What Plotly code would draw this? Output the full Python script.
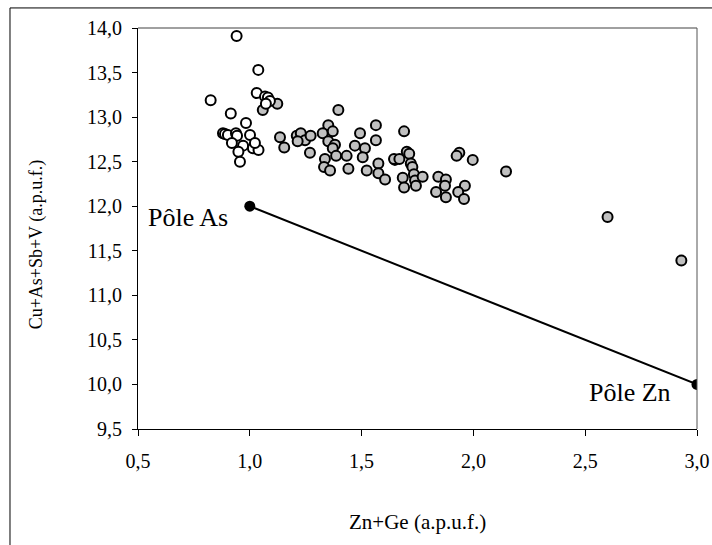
import plotly.graph_objects as go

# Grey-filled analyses
gray_x = [1.058, 1.123, 1.396, 1.351, 1.564, 1.135, 1.154, 1.210, 1.228, 1.247,
          1.214, 1.272, 1.326, 1.371, 1.351, 1.381, 1.371, 1.269, 1.336, 1.386,
          1.433, 1.332, 1.359, 1.441, 1.470, 1.493, 1.515, 1.505, 1.564, 1.523,
          1.575, 1.575, 1.605, 1.649, 1.690, 1.702, 1.713, 1.645, 1.669, 1.720,
          1.727, 1.734, 1.684, 1.690, 1.739, 1.743, 1.773, 1.843, 1.877, 1.873,
          1.833, 1.877, 1.937, 1.925, 1.997, 2.146, 1.962, 1.932, 1.958, 2.60,
          2.93]
gray_y = [13.08, 13.15, 13.08, 12.91, 12.91, 12.775, 12.66, 12.79, 12.82, 12.74,
          12.73, 12.79, 12.82, 12.84, 12.73, 12.69, 12.65, 12.60, 12.53, 12.565,
          12.565, 12.44, 12.40, 12.42, 12.68, 12.82, 12.65, 12.55, 12.74, 12.40,
          12.48, 12.37, 12.30, 12.52, 12.84, 12.61, 12.59, 12.53, 12.53, 12.48,
          12.44, 12.36, 12.32, 12.21, 12.29, 12.23, 12.33, 12.33, 12.30, 12.23,
          12.16, 12.10, 12.60, 12.565, 12.52, 12.39, 12.23, 12.16, 12.08, 11.88,
          11.39]

# White-filled analyses
white_x = [0.941, 1.038, 0.825, 1.031, 1.068, 1.081, 1.090, 1.072, 0.915, 0.983,
           0.880, 0.889, 0.902, 0.938, 0.943, 1.001, 0.920, 0.970, 1.014, 1.039,
           0.949, 0.956, 1.023]
white_y = [13.91, 13.53, 13.19, 13.27, 13.23, 13.22, 13.18, 13.15, 13.04, 12.935,
           12.82, 12.81, 12.80, 12.82, 12.79, 12.80, 12.71, 12.68, 12.65, 12.63,
           12.61, 12.50, 12.71]

# End-members
pole_x = [1.0, 3.0]
pole_y = [12.0, 10.0]
pole_labels = ["Pôle As", "Pôle Zn"]

x_ticks = [0.5, 1.0, 1.5, 2.0, 2.5, 3.0]
y_ticks = [9.5, 10.0, 10.5, 11.0, 11.5, 12.0, 12.5, 13.0, 13.5, 14.0]

x_title = "Zn+Ge (a.p.u.f.)"
y_title = "Cu+As+Sb+V (a.p.u.f.)"

FONT = "Liberation Serif, Times New Roman, serif"

fig = go.Figure()
fig.add_trace(go.Scatter(
    x=pole_x, y=pole_y, mode="lines+markers",
    line=dict(color="black", width=2),
    marker=dict(color="black", size=11),
    showlegend=False, hoverinfo="skip"))
fig.add_trace(go.Scatter(
    x=gray_x, y=gray_y, mode="markers",
    marker=dict(color="#c0c0c0", size=10, line=dict(color="black", width=2)),
    showlegend=False))
fig.add_trace(go.Scatter(
    x=white_x, y=white_y, mode="markers",
    marker=dict(color="white", size=10, line=dict(color="black", width=2)),
    showlegend=False))

fig.update_layout(
    width=712, height=545,
    autosize=False,
    margin=dict(l=138, r=15, t=28, b=116, autoexpand=False),
    paper_bgcolor="white", plot_bgcolor="white",
    separators=", ",
    font=dict(family=FONT, color="black", size=18),
    showlegend=False,
    xaxis=dict(range=[0.5, 3.0], tickvals=x_ticks, tickformat=".1f",
               showline=True, linecolor="black", linewidth=1,
               ticks="outside", ticklen=6, tickcolor="black",
               showgrid=False, zeroline=False, ticklabelstandoff=8,
               automargin=False,
               tickfont=dict(family=FONT, size=20)),
    yaxis=dict(range=[9.5, 14.0], tickvals=y_ticks, tickformat=".1f",
               showline=True, linecolor="black", linewidth=1,
               ticks="outside", ticklen=5, tickcolor="black",
               showgrid=False, zeroline=False, ticklabelstandoff=6,
               automargin=False,
               tickfont=dict(family=FONT, size=20)),
    shapes=[
        dict(type="line", xref="paper", yref="paper", x0=0, x1=1, y0=1, y1=1,
             line=dict(color="#808080", width=1.5)),
        dict(type="line", xref="paper", yref="paper", x0=1, x1=1, y0=0, y1=1,
             line=dict(color="#555555", width=1)),
        dict(type="rect", xref="paper", yref="paper",
             x0=-0.229, x1=1.08, y0=-0.35, y1=1.05,
             line=dict(color="black", width=1), fillcolor="rgba(0,0,0,0)",
             layer="below"),
    ],
    annotations=[
        dict(x=0.724, y=11.87, xref="x", yref="y", text=pole_labels[0],
             showarrow=False, xanchor="center", yanchor="middle",
             font=dict(family=FONT, size=26)),
        dict(x=2.70, y=9.91, xref="x", yref="y", text=pole_labels[1],
             showarrow=False, xanchor="center", yanchor="middle",
             font=dict(family=FONT, size=26)),
        dict(x=0.5, y=-0.232, xref="paper", yref="paper", text=x_title,
             showarrow=False, xanchor="center", yanchor="middle",
             font=dict(family=FONT, size=21)),
        dict(x=-0.181, y=0.46, xref="paper", yref="paper", text=y_title,
             showarrow=False, xanchor="center", yanchor="middle", textangle=-90,
             font=dict(family=FONT, size=18)),
    ],
)

fig.write_html(
    "out.html",
    config={"displayModeBar": False},
    post_script="document.body.style.margin='0';"
                "document.documentElement.style.overflow='hidden';",
)
